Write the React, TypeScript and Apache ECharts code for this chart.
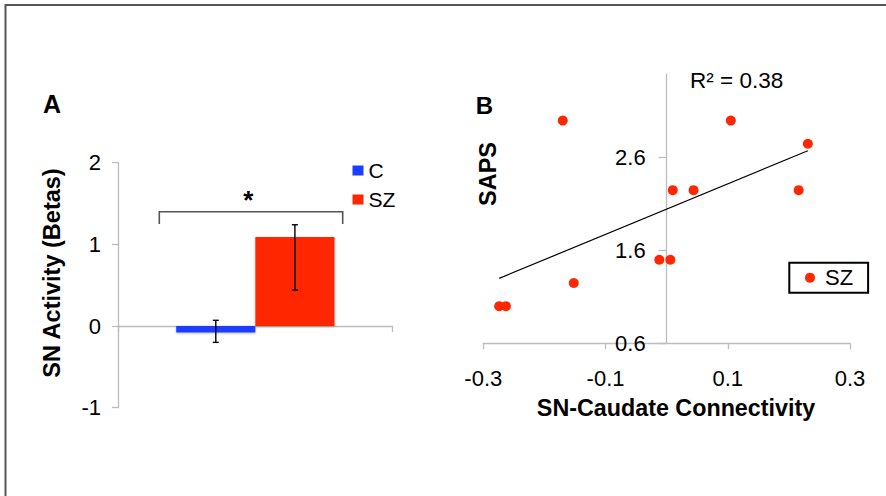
import React, { useEffect, useRef } from "react";
import * as echarts from "echarts";

// Panel A data
const categoriesA = [""];
const groupNames = ["C", "SZ"];
const meanC = [-0.08];
const meanSZ = [1.09];
const errLowC = [-0.2];
const errHighC = [0.07];
const errLowSZ = [0.44];
const errHighSZ = [1.24];
const yTicksA = [-1, 0, 1, 2];

// Panel B data
const connectivity = [-0.17, 0.105, 0.231, 0.01, 0.044, 0.216, -0.012, 0.006, -0.152, -0.274, -0.263];
const saps = [3.0, 3.0, 2.75, 2.25, 2.25, 2.25, 1.5, 1.5, 1.25, 1.0, 1.0];
const trendX = [-0.274, 0.231];
const trendY = [1.3, 2.675];
const xTicksB = [-0.3, -0.1, 0.1, 0.3];
const yTicksB = [0.6, 1.6, 2.6];
const r2Label = "R² = 0.38";

const FONT = "'Liberation Sans', Arial, Helvetica, sans-serif";
const BLUE = "#1c3cff";
const RED = "#ff2600";
const AXIS = "#bdbdbd";
const BAR_FRAC = 0.288;
const GRID_B_WIDTH = 366.7;

function errorRenderer(side: number) {
  return (params: any, api: any) => {
    const x = api.value(0);
    const lo = api.coord([x, api.value(1)]);
    const hi = api.coord([x, api.value(2)]);
    const band = api.size([1, 0])[0];
    const cx = lo[0] + (side * band * BAR_FRAC) / 2;
    const cap = 3;
    const style = { stroke: "#000", lineWidth: 1.4 };
    return {
      type: "group",
      children: [
        { type: "line", shape: { x1: cx, y1: lo[1], x2: cx, y2: hi[1] }, style },
        { type: "line", shape: { x1: cx - cap, y1: lo[1], x2: cx + cap, y2: lo[1] }, style },
        { type: "line", shape: { x1: cx - cap, y1: hi[1], x2: cx + cap, y2: hi[1] }, style },
      ],
    };
  };
}

export default function App() {
  const ref = useRef<HTMLDivElement>(null);
  useEffect(() => {
    if (!ref.current) return;
    const chart = echarts.init(ref.current, undefined, { renderer: "svg" });
    const option: any = {
      animation: false,
      backgroundColor: "#fff",
      textStyle: { fontFamily: FONT },
      grid: [
        { left: 118, top: 162.7, width: 274.7, height: 245 },
        { left: 483.3, top: 74.2, width: GRID_B_WIDTH, height: 269.1 },
      ],
      xAxis: [
        {
          gridIndex: 0,
          type: "category",
          data: categoriesA,
          axisLine: { onZero: true, lineStyle: { color: AXIS, width: 1.3 } },
          axisTick: { show: true, length: 6, lineStyle: { color: AXIS, width: 1.3 } },
          axisLabel: { show: false },
        },
        {
          gridIndex: 1,
          type: "value",
          min: -0.3,
          max: 0.3,
          axisLine: { onZero: false, lineStyle: { color: AXIS, width: 1.3 } },
          axisTick: { show: true, length: 6, customValues: xTicksB, lineStyle: { color: AXIS, width: 1.3 } },
          axisLabel: {
            customValues: xTicksB,
            color: "#000",
            fontSize: 22,
            fontFamily: FONT,
            margin: 24,
            formatter: (v: number) => v.toFixed(1),
          },
          splitLine: { show: false },
        },
      ],
      yAxis: [
        {
          gridIndex: 0,
          type: "value",
          min: -1,
          max: 2,
          interval: 1,
          axisLine: { show: true, lineStyle: { color: AXIS, width: 1.3 } },
          axisTick: { show: true, length: 6, lineStyle: { color: AXIS, width: 1.3 } },
          axisLabel: { color: "#000", fontSize: 22, fontFamily: FONT, margin: 17, customValues: yTicksA },
          splitLine: { show: false },
        },
        {
          gridIndex: 1,
          type: "value",
          min: 0.6,
          max: 3.5,
          position: "left",
          offset: -GRID_B_WIDTH / 2,
          axisLine: { show: true, onZero: false, lineStyle: { color: AXIS, width: 1.3 } },
          axisTick: { show: true, length: 8, customValues: yTicksB, lineStyle: { color: AXIS, width: 1.3 } },
          axisLabel: {
            customValues: yTicksB,
            color: "#000",
            fontSize: 22,
            fontFamily: FONT,
            margin: 21,
            formatter: (v: number) => v.toFixed(1),
          },
          splitLine: { show: false },
        },
      ],
      legend: [
        {
          data: groupNames.map((n) => ({ name: n, icon: "rect" })),
          orient: "vertical",
          left: 352.5,
          top: 160,
          padding: 0,
          itemWidth: 11,
          itemHeight: 10,
          itemGap: 8,
          selectedMode: false,
          textStyle: { fontSize: 21, color: "#000", fontFamily: FONT },
        },
        {
          data: [{ name: "SZ", icon: "circle" }],
          left: 789.3,
          top: 262.7,
          padding: [4, 15, 4, 15.7],
          itemWidth: 20,
          itemHeight: 10,
          borderColor: "#000",
          borderWidth: 2,
          selectedMode: false,
          textStyle: { fontSize: 22, color: "#000", fontFamily: FONT },
        },
      ],
      series: [
        {
          name: groupNames[0],
          type: "bar",
          xAxisIndex: 0,
          yAxisIndex: 0,
          data: meanC,
          barWidth: BAR_FRAC * 100 + "%",
          barGap: "0%",
          itemStyle: { color: BLUE, shadowBlur: 2, shadowColor: "rgba(0,0,0,0.25)", shadowOffsetY: 1 },
        },
        {
          name: groupNames[1],
          type: "bar",
          xAxisIndex: 0,
          yAxisIndex: 0,
          data: meanSZ,
          barWidth: BAR_FRAC * 100 + "%",
          barGap: "0%",
          itemStyle: { color: RED, shadowBlur: 2, shadowColor: "rgba(0,0,0,0.25)", shadowOffsetY: 1 },
        },
        {
          type: "custom",
          xAxisIndex: 0,
          yAxisIndex: 0,
          renderItem: errorRenderer(-1),
          encode: { x: 0, y: [1, 2] },
          data: categoriesA.map((_, i) => [i, errLowC[i], errHighC[i]]),
          z: 5,
        },
        {
          type: "custom",
          xAxisIndex: 0,
          yAxisIndex: 0,
          renderItem: errorRenderer(1),
          encode: { x: 0, y: [1, 2] },
          data: categoriesA.map((_, i) => [i, errLowSZ[i], errHighSZ[i]]),
          z: 5,
        },
        {
          type: "line",
          xAxisIndex: 1,
          yAxisIndex: 1,
          data: trendX.map((x, i) => [x, trendY[i]]),
          symbol: "none",
          lineStyle: { color: "#000", width: 1.2 },
          z: 3,
        },
        {
          name: "SZ",
          type: "scatter",
          xAxisIndex: 1,
          yAxisIndex: 1,
          data: connectivity.map((x, i) => [x, saps[i]]),
          symbolSize: 10,
          itemStyle: { color: RED, opacity: 1 },
          z: 4,
        },
      ],
      graphic: [
        {
          type: "rect",
          shape: { x: 5.5, y: 5, width: 900, height: 520 },
          style: { fill: "none", stroke: "#555", lineWidth: 2 },
        },
        {
          type: "text",
          x: 52,
          y: 104,
          style: { text: "A", font: `bold 25px ${FONT}`, fill: "#000", textAlign: "center", textVerticalAlign: "middle" },
        },
        {
          type: "text",
          x: 484.5,
          y: 105,
          style: { text: "B", font: `bold 24px ${FONT}`, fill: "#000", textAlign: "center", textVerticalAlign: "middle" },
        },
        {
          type: "text",
          x: 52,
          y: 273,
          rotation: Math.PI / 2,
          style: {
            text: "SN Activity (Betas)",
            font: `bold 23.5px ${FONT}`,
            fill: "#000",
            textAlign: "center",
            textVerticalAlign: "middle",
          },
        },
        {
          type: "text",
          x: 488,
          y: 174,
          rotation: Math.PI / 2,
          style: { text: "SAPS", font: `bold 23.5px ${FONT}`, fill: "#000", textAlign: "center", textVerticalAlign: "middle" },
        },
        {
          type: "text",
          x: 676,
          y: 408,
          style: {
            text: "SN-Caudate Connectivity",
            font: `bold 23.3px ${FONT}`,
            fill: "#000",
            textAlign: "center",
            textVerticalAlign: "middle",
          },
        },
        {
          type: "text",
          x: 690,
          y: 80,
          style: { text: r2Label, font: `22.5px ${FONT}`, fill: "#000", textAlign: "left", textVerticalAlign: "middle" },
        },
        {
          type: "polyline",
          shape: { points: [[159.3, 224], [159.3, 211.7], [342.7, 211.7], [342.7, 224]] },
          style: { stroke: "#555", lineWidth: 1.6, fill: "none" },
        },
        {
          type: "text",
          x: 248.3,
          y: 200,
          style: { text: "*", font: `bold 26px ${FONT}`, fill: "#000", textAlign: "center", textVerticalAlign: "middle" },
        },
      ],
    };
    chart.setOption(option);
    return () => chart.dispose();
  }, []);
  return <div ref={ref} style={{ position: "fixed", left: 0, top: 0, width: 886, height: 496 }} />;
}
